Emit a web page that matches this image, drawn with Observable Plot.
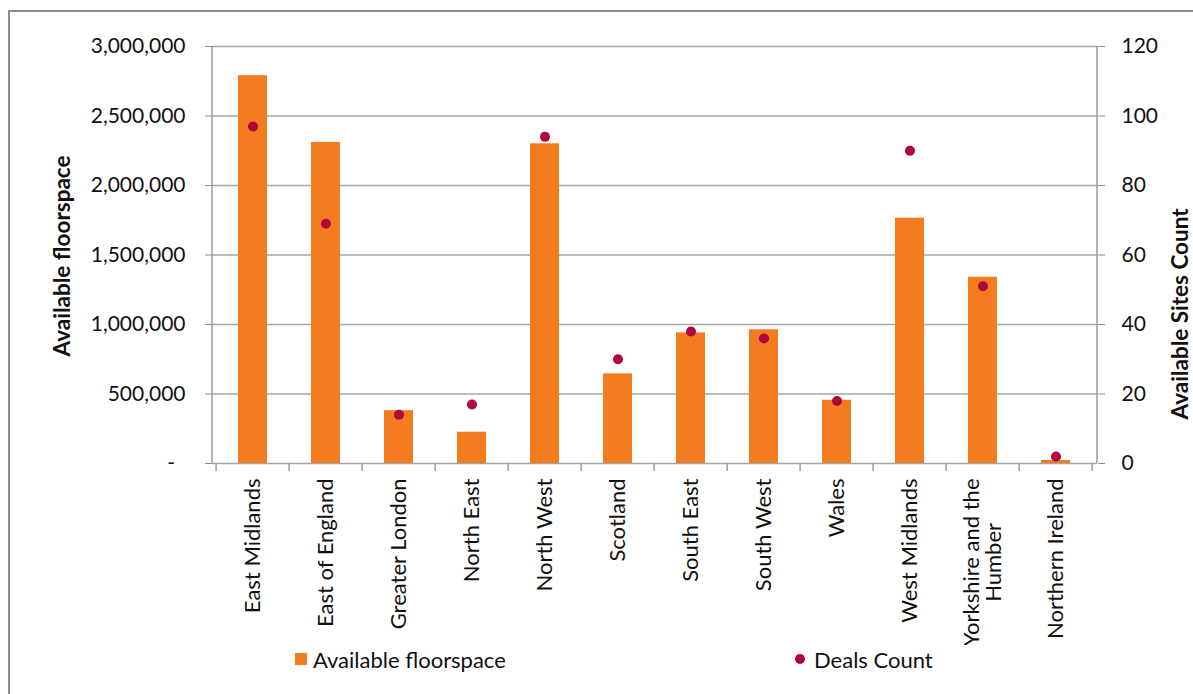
<!DOCTYPE html>
<html>
<head>
<meta charset="utf-8">
<script src="https://cdn.jsdelivr.net/npm/d3@7"></script>
<script src="https://cdn.jsdelivr.net/npm/@observablehq/plot@0.6"></script>
<style>
  body { margin: 0; background: #fff; font-family: Lato, "Open Sans", sans-serif; color: #111; }
  #frame { position: absolute; left: 8px; top: 10px; width: 1200px; height: 700px;
           border-left: 2px solid #8c8c8c; border-top: 2px solid #8c8c8c; }
  #chart { position: absolute; left: 0; top: 0; }
  .lg { position: absolute; top: 645px; height: 28px; display: flex; align-items: center;
        font-size: 22px; color: #111; white-space: nowrap; }
  .sw { width: 12px; height: 12px; background: #F47C20; margin-right: 6px; }
  .dt { width: 10px; height: 10px; border-radius: 50%; background: #B0073C; margin-right: 9px; }
</style>
</head>
<body>
<div id="frame"></div>
<div id="chart"></div>
<div class="lg" style="left:295px"><div class="sw"></div><span>Available floorspace</span></div>
<div class="lg" style="left:795px"><div class="dt"></div><span>Deals Count</span></div>
<script>
// ---- data ----
const regions = ["East Midlands", "East of England", "Greater London", "North East", "North West",
  "Scotland", "South East", "South West", "Wales", "West Midlands", "Yorkshire and the Humber", "Northern Ireland"];
const regionLabels = ["East Midlands", "East of England", "Greater London", "North East", "North West",
  "Scotland", "South East", "South West", "Wales", "West Midlands", "Yorkshire and the\nHumber", "Northern Ireland"];
const floorspace = [2790000, 2310000, 380000, 225000, 2300000, 645000, 940000, 962000, 455000, 1765000, 1340000, 22000];
const dealsCount = [97, 69, 14, 17, 94, 30, 38, 36, 18, 90, 51, 2];
const floorTicks = [0, 500000, 1000000, 1500000, 2000000, 2500000, 3000000];
const dealTicks = [0, 20, 40, 60, 80, 100, 120];

const yMax = floorTicks[floorTicks.length - 1];
const k = yMax / dealTicks[dealTicks.length - 1]; // secondary-axis conversion
const data = regions.map((r, i) => ({region: r, label: regionLabels[i], floor: floorspace[i], deals: dealsCount[i]}));

const axisColor = "#8c8c8c";
const gridColor = "#a6a6a6";
const textColor = "#111111";
const padInner = 0.6;

function axisLines(index, {x, y}, values, dims) {
  const g = d3.create("svg:g").attr("stroke", axisColor).attr("stroke-width", 1.3);
  const xl = dims.marginLeft, xr = dims.width - dims.marginRight;
  const yTop = y(yMax), yBot = y(0);
  g.append("line").attr("x1", xl).attr("x2", xl).attr("y1", yTop).attr("y2", yBot);
  g.append("line").attr("x1", xr).attr("x2", xr).attr("y1", yTop).attr("y2", yBot);
  const step = x(regions[1]) - x(regions[0]);
  const half = step * padInner / 2;
  const bounds = regions.map(r => x(r) - half).concat([x(regions[regions.length - 1]) + step - half]);
  for (const b of bounds) {
    g.append("line").attr("x1", b).attr("x2", b).attr("y1", yBot).attr("y2", yBot + 8);
  }
  return g.node();
}

const chart = Plot.plot({
  width: 1193,
  height: 645,
  marginLeft: 212,
  marginRight: 96,
  marginTop: 46,
  marginBottom: 182,
  style: {fontFamily: "Lato, 'Open Sans', sans-serif", fontSize: "21px", color: textColor, background: "transparent"},
  x: {domain: regions, paddingInner: padInner, paddingOuter: padInner / 2, axis: null},
  y: {domain: [0, yMax]},
  marks: [
    Plot.ruleY(floorTicks, {stroke: gridColor, strokeWidth: 1.3}),
    Plot.barY(data, {x: "region", y: "floor", fill: "#F47C20"}),
    Plot.dot(data, {x: "region", y: d => d.deals * k, r: 5, fill: "#B0073C", stroke: "none"}),
    axisLines,
    Plot.axisY({anchor: "left", ticks: floorTicks, tickSize: 7, tickPadding: 20, label: null,
      stroke: axisColor, fill: textColor,
      tickFormat: d => d === 0 ? "-\u2002" : d3.format(",")(d)}),
    Plot.axisY({anchor: "right", ticks: dealTicks.map(d => d * k), tickSize: 7, tickPadding: 17, label: null,
      stroke: axisColor, fill: textColor,
      tickFormat: d => String(Math.round(d / k))}),
    Plot.text(data, {x: "region", text: "label", frameAnchor: "bottom", rotate: -90,
      textAnchor: "end", lineAnchor: "middle", dy: 15, fill: textColor, fontSize: 22}),
    Plot.text(["Available floorspace"], {text: d => d, frameAnchor: "left", rotate: -90, dx: -150, dy: 1,
      textAnchor: "middle", fontWeight: "bold", fontSize: 22.5, fill: textColor}),
    Plot.text(["Available Sites Count"], {text: d => d, frameAnchor: "right", rotate: -90, dx: 83, dy: 59,
      textAnchor: "middle", fontWeight: "bold", fontSize: 22.5, fill: textColor})
  ]
});
document.getElementById("chart").appendChild(chart);

// centre-justify multi-line category labels
chart.querySelectorAll("text").forEach(t => {
  const ts = t.querySelectorAll("tspan");
  if (ts.length > 1) {
    const L = Math.max(...Array.from(ts, s => s.getComputedTextLength()));
    t.setAttribute("text-anchor", "middle");
    ts.forEach(s => s.setAttribute("x", -L / 2));
  }
});
</script>
</body>
</html>
